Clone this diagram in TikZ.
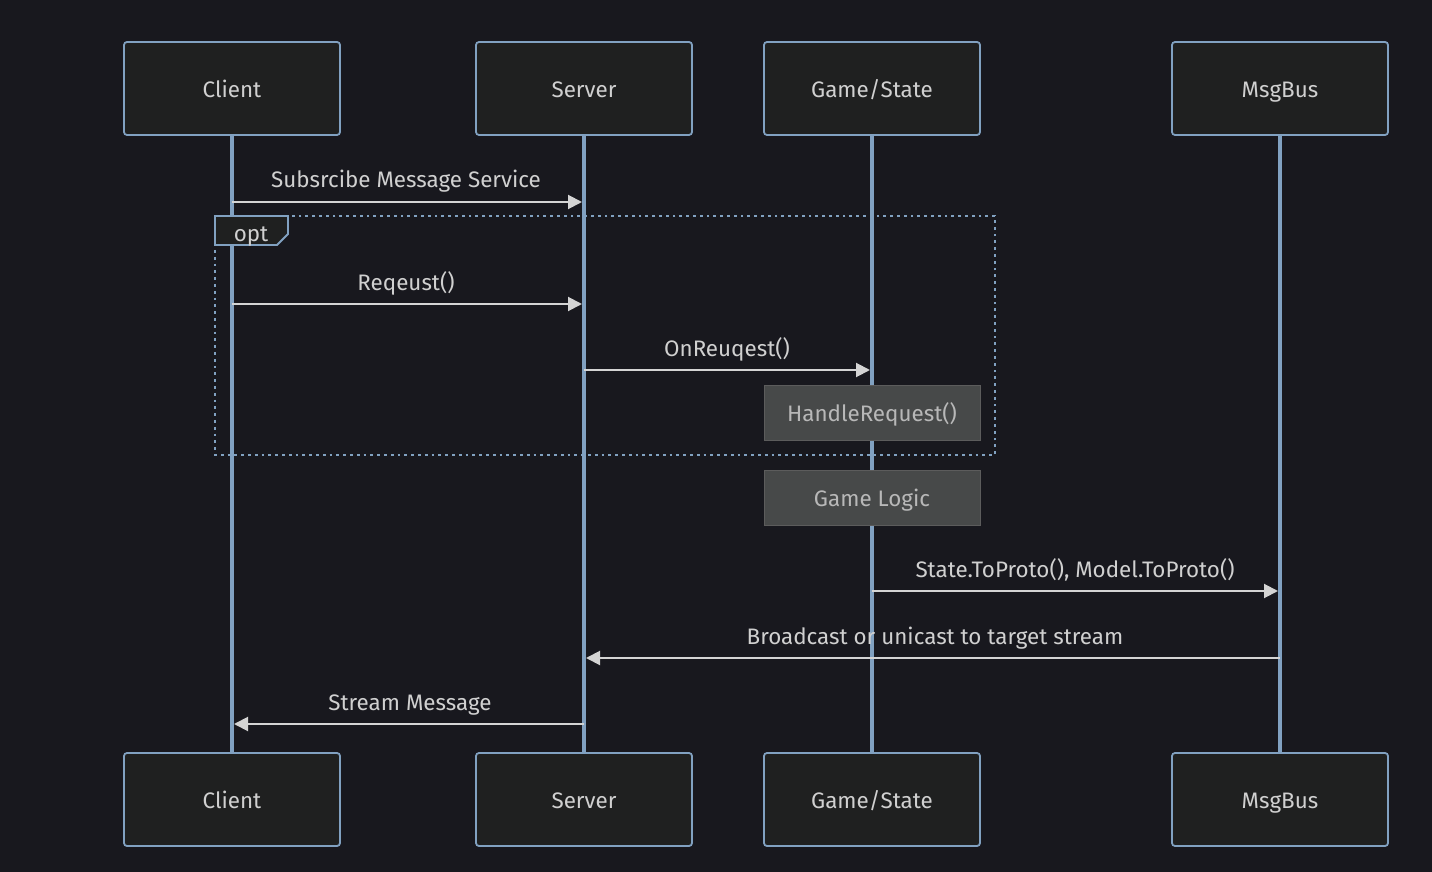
\documentclass[tikz,border=0pt]{standalone}
\usepackage{fontspec}
\setmainfont{Fira Sans}
\usetikzlibrary{arrows.meta}

\definecolor{bgdark}{HTML}{18181E}
\definecolor{actorfill}{HTML}{1F2020}
\definecolor{lineblue}{HTML}{81A1C1}
\definecolor{textgrey}{HTML}{D0D0D0}
\definecolor{notefill}{HTML}{474949}
\definecolor{noteline}{HTML}{5C5C5C}
\definecolor{notetext}{HTML}{B8B8B8}
\definecolor{msgline}{HTML}{D4D4D4}

\tikzset{
  every node/.style={text height=9.2pt, text depth=0pt},
  actor/.style={draw=lineblue, fill=actorfill, rounded corners=1.5pt, line width=0.9pt,
    minimum width=108pt, minimum height=46.5pt, inner sep=0pt, text=textgrey},
  note/.style={draw=noteline, fill=notefill, line width=0.5pt,
    minimum width=108pt, minimum height=27.5pt, inner sep=0pt, text=notetext},
  lifeline/.style={draw=lineblue, line width=1.6pt},
  msg/.style={draw=msgline, line width=1pt, shorten >=1pt,
    -{Triangle[length=7pt,width=7pt]}},
  msglabel/.style={text=textgrey, inner sep=0pt},
}

\begin{document}
\begin{tikzpicture}[x=0.5pt, y=-0.5pt, font=\fontsize{11.2}{13}\selectfont]
\fill[bgdark] (0,0) rectangle (1432,872);
\useasboundingbox (0,0) rectangle (1432,872);

% actors and lifelines
\foreach \name/\x/\lbl in {client/232/Client, server/584/Server, game/872/{Game/State}, bus/1280/MsgBus} {
  \node[actor] (\name-top) at (\x,88.5) {\lbl};
  \node[actor] (\name-bot) at (\x,799.5) {\lbl};
  \draw[lifeline] (\name-top) -- (\name-bot);
}

% opt frame
\draw[lineblue, line width=1.4pt, dotted] (215,216) rectangle (995,455);
\draw[lineblue, line width=0.9pt, fill=actorfill] (215,216) -- (288,216) -- (288,234)
  -- (277,245) -- (215,245) -- cycle;
\node[msglabel] (optlabel) at (251,232) {opt};

% message end points
\coordinate (c1) at (232,202);  \coordinate (s1) at (584,202);
\coordinate (c2) at (232,304);  \coordinate (s2) at (584,304);
\coordinate (s3) at (584,370);  \coordinate (g3) at (872,370);
\coordinate (g4) at (872,591);  \coordinate (b4) at (1280,591);
\coordinate (b5) at (1280,658); \coordinate (s5) at (584,658);
\coordinate (s6) at (584,724);  \coordinate (c6) at (232,724);

% messages
\draw[msg] (c1) -- (s1);
\node[msglabel] (l1) at (406,178) {Subsrcibe Message Service};
\draw[msg] (c2) -- (s2);
\node[msglabel] (l2) at (406,281) {Reqeust()};
\draw[msg] (s3) -- (g3);
\node[msglabel] (l3) at (727,347) {OnReuqest()};
\draw[msg] (g4) -- (b4);
\node[msglabel] (l4) at (1075,568) {State.ToProto(), Model.ToProto()};
\draw[msg] (b5) -- (s5);
\node[msglabel] (l5) at (935,635) {Broadcast or unicast to target stream};
\draw[msg] (s6) -- (c6);
\node[msglabel] (l6) at (410,701) {Stream Message};

% notes
\node[note] (handle) at (872,412.5) {HandleRequest()};
\node[note] (logic) at (872,497.5) {Game Logic};
\end{tikzpicture}
\end{document}
